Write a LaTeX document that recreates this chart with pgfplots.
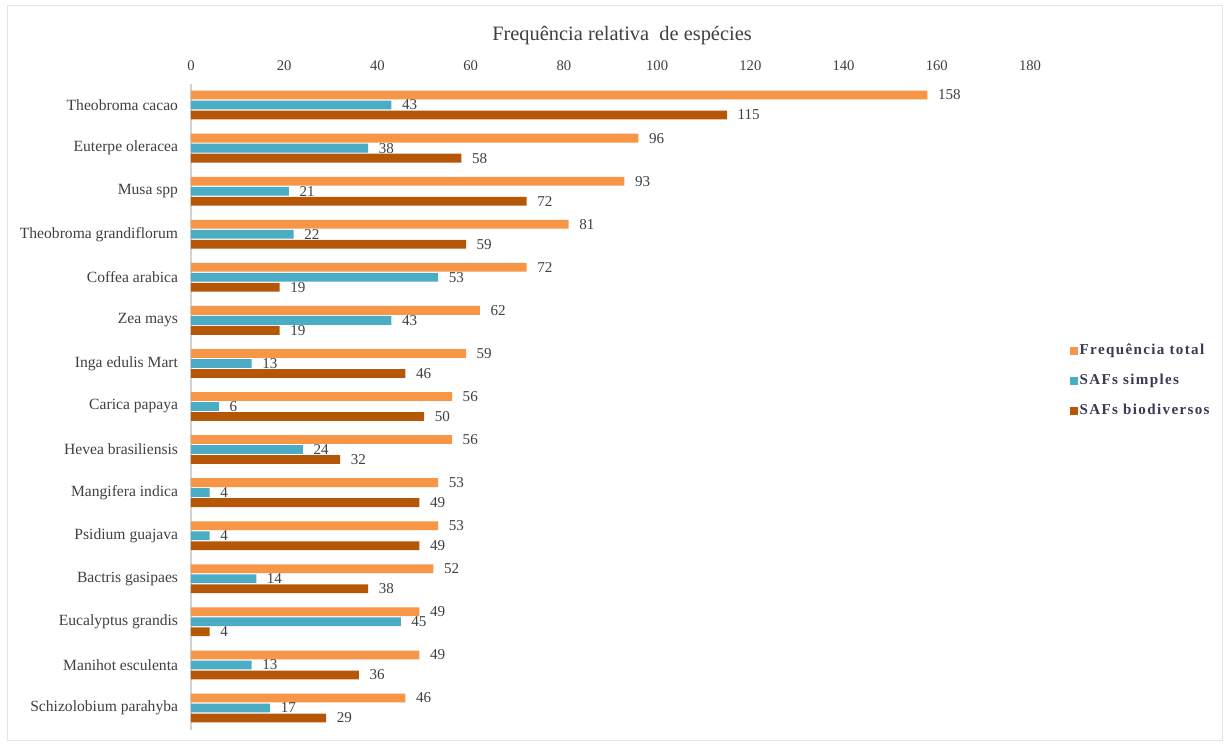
\documentclass[border=0pt]{standalone}
\usepackage{fontspec}
\setmainfont{Liberation Serif}
\newfontfamily\legfont[LetterSpace=9]{Liberation Serif}
\usepackage{pgfplots}
\pgfplotsset{compat=1.18}
\usepackage{pgfplotstable}

\definecolor{cTotal}{HTML}{F79646}
\definecolor{cSimples}{HTML}{4BACC6}
\definecolor{cBio}{HTML}{B65708}
\definecolor{txt}{HTML}{404040}

% species in display order (top to bottom): total, simple SAFs, biodiverse SAFs
\pgfplotstableread{
idx total simples bio
0  158 43 115
1  96  38 58
2  93  21 72
3  81  22 59
4  72  53 19
5  62  43 19
6  59  13 46
7  56  6  50
8  56  24 32
9  53  4  49
10 53  4  49
11 52  14 38
12 49  45 4
13 49  13 36
14 46  17 29
}\freqdata

\begin{document}
\begin{tikzpicture}
\path[use as bounding box] (0,0) rectangle (921.75pt,-558.75pt);
\fill[white] (0,0) rectangle (921.75pt,-558.75pt);
\draw[gray!20, line width=0.75pt] (5.25pt,-4.5pt) rectangle (916.5pt,-555pt);
\node[text=txt, font=\fontsize{15.3pt}{18pt}\selectfont] at (466.5pt,-27pt) {Frequência relativa \ de espécies};
\begin{axis}[
  at={(143.25pt,-62.625pt)}, anchor=north west,
  scale only axis, width=629.25pt, height=484.5pt,
  xbar, bar width=6.6pt,
  xmin=0, xmax=180, ymin=-0.5, ymax=14.5, y dir=reverse,
  xtick={0,20,...,180},
  ytick={0,...,14},
  yticklabels={Theobroma cacao, Euterpe oleracea, Musa spp, Theobroma grandiflorum, Coffea arabica, Zea mays, Inga edulis Mart, Carica papaya, Hevea brasiliensis, Mangifera indica, Psidium guajava, Bactris gasipaes, Eucalyptus grandis, Manihot esculenta, Schizolobium parahyba},
  axis x line*=top, axis y line*=left, axis line style={-},
  x axis line style={draw=none},
  y axis line style={draw=gray!35, line width=0.8pt},
  major tick length=0pt,
  tick label style={text=txt, font=\fontsize{11pt}{13pt}\selectfont},
  yticklabel style={font=\fontsize{11.7pt}{13pt}\selectfont, xshift=-6.2pt},
  /pgf/number format/assume math mode=true,
  xticklabel style={yshift=6pt},
  nodes near coords,
  nodes near coords style={anchor=west, xshift=4.5pt, text=txt, font=\fontsize{11.3pt}{13pt}\selectfont},
  legend style={at={(1.043,0.603)}, anchor=north west, draw=none, fill=none,
    font=\legfont\bfseries\fontsize{11.3pt}{13pt}\selectfont, text=txt!90!blue,
    row sep=11.2pt, nodes={inner sep=1pt}},
  legend cell align=left,
  legend image code/.code={\fill[#1,draw=none] (0pt,-3pt) rectangle (6pt,3pt);},
]
\addplot[fill=cTotal, draw=none, bar shift=7.5pt] table[x=total, y=idx]{\freqdata};
\addplot[fill=cSimples, draw=none, bar shift=0pt] table[x=simples, y=idx]{\freqdata};
\addplot[fill=cBio, draw=none, bar shift=-7.5pt] table[x=bio, y=idx]{\freqdata};
\legend{Frequência total, SAFs simples, SAFs biodiversos}
\end{axis}
\end{tikzpicture}
\end{document}
